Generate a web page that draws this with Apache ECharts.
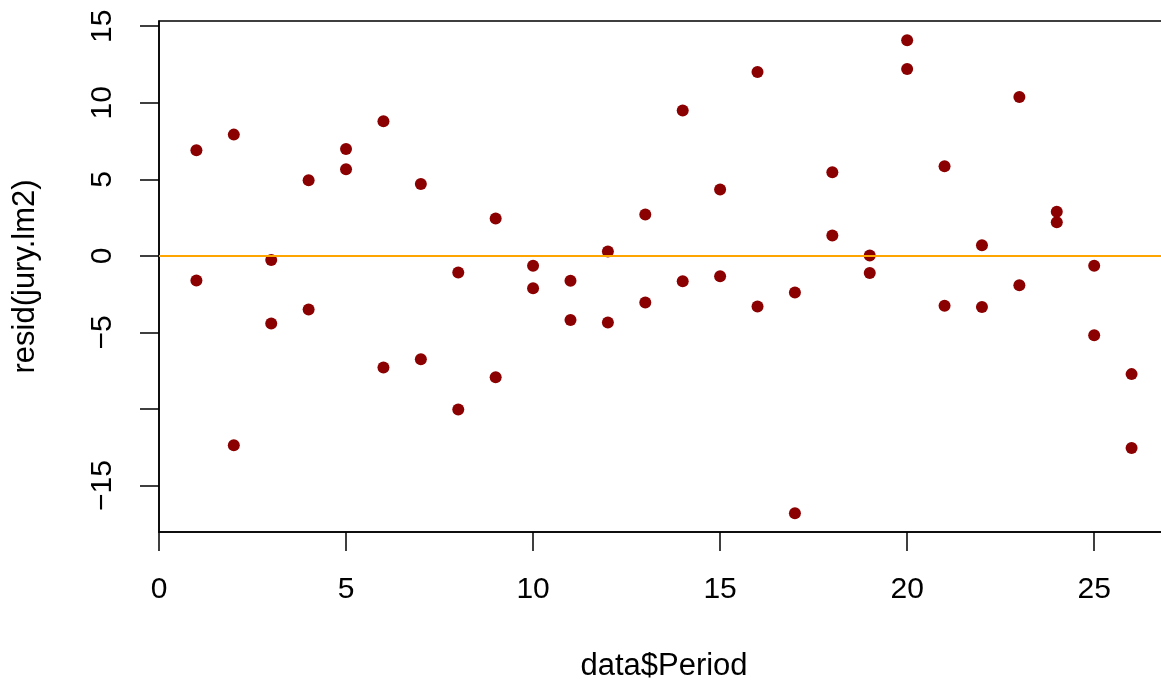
<!DOCTYPE html>
<html>
<head>
<meta charset="utf-8">
<title>resid(jury.lm2) vs data$Period</title>
<script src="https://cdn.jsdelivr.net/npm/echarts@6/dist/echarts.min.js"></script>
<style>
  html, body { margin: 0; padding: 0; background: #ffffff; }
  #chart { width: 1161px; height: 686px; }
</style>
</head>
<body>
<div id="chart"></div>
<script>
// Two residuals per period
const periods = [1, 2, 3, 4, 5, 6, 7, 8, 9, 10, 11, 12, 13, 14, 15, 16, 17, 18, 19, 20, 21, 22, 23, 24, 25, 26];
const residFirst  = [6.90, 7.92, -0.26, 4.94, 6.98, 8.79, 4.70, -1.09, 2.44, -0.65, -1.63, 0.28, 2.70,
                     9.49, 4.33, 12.01, -2.39, 5.46, 0.02, 14.08, 5.85, 0.70, 10.38, 2.89, -0.65, -7.72];
const residSecond = [-1.61, -12.36, -4.42, -3.50, 5.66, -7.29, -6.75, -10.03, -7.92, -2.11, -4.18, -4.35, -3.05,
                     -1.65, -1.33, -3.31, -16.80, 1.33, -1.11, 12.21, -3.26, -3.33, -1.91, 2.20, -5.18, -12.55];

// Axis ticks and labels
const xTicks = [0, 5, 10, 15, 20, 25];
const yTicks = [-15, -10, -5, 0, 5, 10, 15];
const yHiddenLabels = [-10];
const xName = 'data$Period';
const yName = 'resid(jury.lm2)';

const points = [];
periods.forEach((p, i) => {
  points.push([p, residFirst[i]]);
  points.push([p, residSecond[i]]);
});

const FONT = '"Liberation Sans", Arial, Helvetica, sans-serif';
const fmt = v => (v < 0 ? '\u2212' + Math.abs(v) : String(v));
const AXIS_LINE = { show: true, onZero: false, lineStyle: { color: '#000', width: 1.5 } };

const chart = echarts.init(document.getElementById('chart'), null, { renderer: 'canvas' });
chart.setOption({
  animation: false,
  backgroundColor: '#ffffff',
  grid: {
    // the plot box runs a little past the right edge of the canvas
    left: 159, top: 21, width: 1010, height: 511,
    outerBoundsMode: 'none',
    containLabel: false,
    show: true, borderColor: '#000000', borderWidth: 1.5, backgroundColor: 'transparent'
  },
  xAxis: {
    type: 'value', min: 0, max: 27,
    name: xName, nameLocation: 'middle', nameGap: 134,
    nameTextStyle: { fontFamily: FONT, fontSize: 31, color: '#000', verticalAlign: 'middle' },
    axisLine: AXIS_LINE,
    splitLine: { show: false },
    axisTick: { show: true, inside: false, length: 19, customValues: xTicks, lineStyle: { color: '#000', width: 1.5 } },
    axisLabel: {
      customValues: xTicks, margin: 58, verticalAlign: 'middle',
      fontFamily: FONT, fontSize: 30, color: '#000', formatter: fmt
    }
  },
  yAxis: {
    type: 'value', min: -18.03, max: 15.34,
    name: yName, nameLocation: 'middle', nameGap: 134, nameRotate: 90,
    nameTextStyle: { fontFamily: FONT, fontSize: 31, color: '#000', verticalAlign: 'middle' },
    axisLine: AXIS_LINE,
    splitLine: { show: false },
    axisTick: { show: true, inside: false, length: 19, customValues: yTicks, lineStyle: { color: '#000', width: 1.5 } },
    axisLabel: {
      customValues: yTicks, margin: 56, rotate: 90, align: 'center', verticalAlign: 'middle',
      fontFamily: FONT, fontSize: 30, color: '#000',
      formatter: v => (yHiddenLabels.includes(v) ? '' : fmt(v))
    }
  },
  series: [
    {
      type: 'scatter',
      data: points,
      symbol: 'circle',
      symbolSize: 12,
      itemStyle: { color: '#8B0000', opacity: 1 },
      z: 2
    },
    {
      // horizontal reference line at zero
      type: 'line',
      data: [[0, 0], [27, 0]],
      symbol: 'none',
      lineStyle: { color: '#FFA500', width: 2 },
      z: 3,
      silent: true
    }
  ]
});
</script>
</body>
</html>
